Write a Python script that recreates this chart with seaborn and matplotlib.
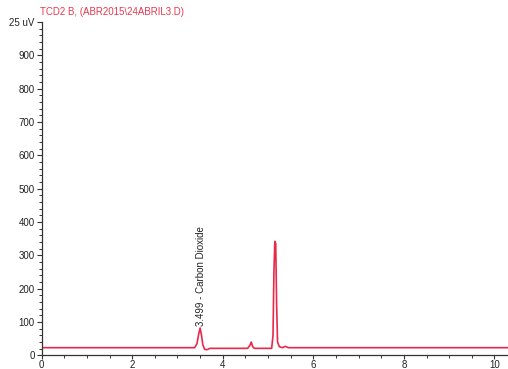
import numpy as np
import pandas as pd
import matplotlib
matplotlib.use("Agg")
import matplotlib.pyplot as plt
import seaborn as sns
from matplotlib.ticker import MultipleLocator, FixedLocator

# ---- data (retention time in min, signal) ----
time = [0.00, 3.38, 3.43, 3.47, 3.50, 3.53, 3.56, 3.60, 3.65, 3.72,
        4.55, 4.60, 4.63, 4.66, 4.70, 5.08, 5.11, 5.13, 5.15, 5.17,
        5.19, 5.21, 5.25, 5.32, 5.38, 5.45, 10.30]
signal = [23, 23, 35, 65, 82, 60, 32, 18, 17, 21,
          21, 30, 40, 26, 21, 21, 60, 250, 342, 335,
          150, 40, 26, 23, 27, 23, 23]

peak_label = "3.499 - Carbon Dioxide"
peak_time = 3.499
title = "TCD2 B, (ABR2015\\24ABRIL3.D)"
y_ticks = [0, 100, 200, 300, 400, 500, 600, 700, 800, 900, 1000]
y_labels = ["0", "100", "200", "300", "400", "500", "600", "700", "800", "900", "25 uV"]
x_ticks = [0, 2, 4, 6, 8, 10]

df = pd.DataFrame({"time": time, "signal": signal})

sns.set_theme(style="ticks")
plt.rcParams["font.family"] = ["Liberation Sans", "DejaVu Sans"]

fig = plt.figure(figsize=(5.08, 3.69), dpi=100)
ax = fig.add_axes([0.082, 0.037, 0.918, 0.903])

sns.lineplot(data=df, x="time", y="signal", color="#e8294a", linewidth=1.2, ax=ax)

ax.set_xlim(0, 10.3)
ax.set_ylim(0, 1000)
ax.yaxis.set_major_locator(FixedLocator(y_ticks))
ax.set_yticklabels(y_labels)
ax.yaxis.set_minor_locator(MultipleLocator(20))
ax.xaxis.set_major_locator(FixedLocator(x_ticks))
ax.xaxis.set_minor_locator(MultipleLocator(0.5))
ax.set_xlabel("")
ax.set_ylabel("")

ax.tick_params(axis="both", which="major", length=3.5, width=0.8, labelsize=7,
               color="#333333", labelcolor="#222222")
ax.tick_params(axis="y", which="major", pad=1.5)
ax.tick_params(axis="x", which="major", length=3, pad=0)
ax.tick_params(axis="both", which="minor", length=2, width=0.7, color="#333333")
for side in ["left", "bottom"]:
    ax.spines[side].set_color("#333333")
    ax.spines[side].set_linewidth(0.9)
sns.despine(ax=ax)

ax.text(peak_time + 0.02, 88, peak_label, rotation=90, ha="center", va="bottom",
        fontsize=7, color="#222222")

fig.text(0.079, 0.955, title, fontsize=7, color="#e8384f", ha="left", va="bottom")

fig.savefig("out.png", dpi=100)
